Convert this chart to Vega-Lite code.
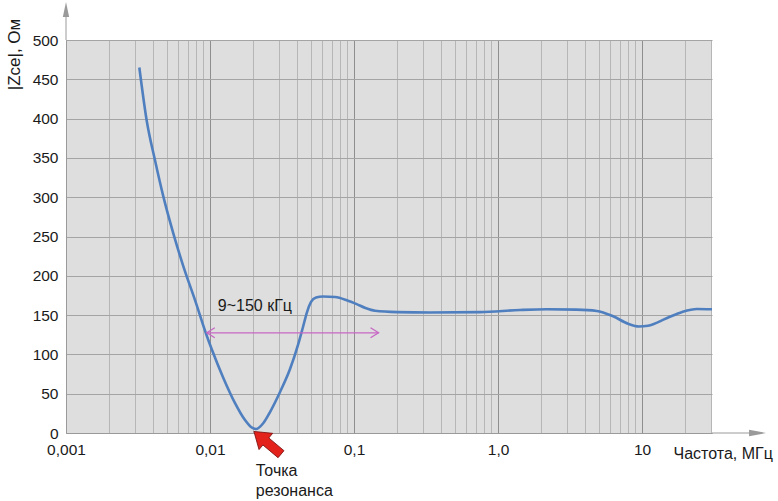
{
  "$schema": "https://vega.github.io/schema/vega-lite/v6.json",
  "width": 646,
  "height": 393,
  "autosize": {"type": "none"},
  "padding": {"left": 66, "top": 40, "right": 66, "bottom": 68},
  "background": "white",
  "config": {
    "view": {"fill": "#dedede", "stroke": null},
    "font": "Liberation Sans",
    "text": {"font": "Liberation Sans"}
  },
  "datasets": {
    "curve": [
      {"f": 0.00323, "z": 465},
      {"f": 0.00363, "z": 398},
      {"f": 0.00415, "z": 347},
      {"f": 0.00474, "z": 301},
      {"f": 0.00556, "z": 254},
      {"f": 0.00653, "z": 212},
      {"f": 0.00787, "z": 169},
      {"f": 0.00948, "z": 124},
      {"f": 0.01028, "z": 106.5},
      {"f": 0.01231, "z": 71},
      {"f": 0.01492, "z": 38},
      {"f": 0.01749, "z": 16.5},
      {"f": 0.01926, "z": 7.6},
      {"f": 0.02086, "z": 5},
      {"f": 0.02333, "z": 12.1},
      {"f": 0.0261, "z": 26.7},
      {"f": 0.03063, "z": 52.2},
      {"f": 0.03594, "z": 81.4},
      {"f": 0.04084, "z": 112},
      {"f": 0.04423, "z": 134.9},
      {"f": 0.04717, "z": 153.9},
      {"f": 0.05029, "z": 166.7},
      {"f": 0.05447, "z": 172.4},
      {"f": 0.06091, "z": 173.7},
      {"f": 0.0738, "z": 173},
      {"f": 0.089, "z": 169},
      {"f": 0.1044, "z": 164},
      {"f": 0.12, "z": 159},
      {"f": 0.14, "z": 155.5},
      {"f": 0.2, "z": 153.8},
      {"f": 0.337, "z": 153.3},
      {"f": 0.75, "z": 153.8},
      {"f": 1.42, "z": 156.5},
      {"f": 2.18, "z": 157.4},
      {"f": 3.5, "z": 157},
      {"f": 4.85, "z": 155.3},
      {"f": 6.29, "z": 148.5},
      {"f": 8.0, "z": 139},
      {"f": 9.5, "z": 135.5},
      {"f": 11.0, "z": 136.5},
      {"f": 14.8, "z": 146},
      {"f": 19.0, "z": 154},
      {"f": 24.0, "z": 157.8},
      {"f": 30.6, "z": 157.4}
    ],
    "band": [{"f": 0.0095, "f2": 0.148, "z": 127.5}],
    "bandEnds": [
      {"f": 0.0095, "z": 127.5, "end": "left"},
      {"f": 0.148, "z": 127.5, "end": "right"}
    ],
    "bandLabel": [{"f": 0.0205, "z": 161, "label": "9~150 кГц"}],
    "resonance": [{"f": 0.02506, "z": -12.5}],
    "resonanceLabel": [
      {"f": 0.0208, "z": -48.3, "label": "Точка"},
      {"f": 0.0208, "z": -73.8, "label": "резонанса"}
    ],
    "xAxisExt": [{"f": 30.6, "f2": 59, "z": 0}],
    "xAxisHead": [{"f": 63.4, "z": 0}],
    "yAxisExt": [{"f": 0.001, "z": 500, "z2": 530}],
    "yAxisHead": [{"f": 0.001, "z": 538.8}]
  },
  "encoding": {
    "x": {
      "field": "f",
      "type": "quantitative",
      "scale": {"type": "log", "domain": [0.001, 30.6], "nice": false},
      "axis": {
        "values": [0.001, 0.002, 0.003, 0.004, 0.005, 0.006, 0.007, 0.008, 0.009,
                   0.01, 0.02, 0.03, 0.04, 0.05, 0.06, 0.07, 0.08, 0.09,
                   0.1, 0.2, 0.3, 0.4, 0.5, 0.6, 0.7, 0.8, 0.9,
                   1, 2, 3, 4, 5, 6, 7, 8, 9,
                   10, 20, 30],
        "labelExpr": "datum.value == 0.001 ? '0,001' : datum.value == 0.01 ? '0,01' : datum.value == 0.1 ? '0,1' : datum.value == 1 ? '1,0' : datum.value == 10 ? '10' : ''",
        "labelFlush": false,
        "labelOverlap": false,
        "labelFontSize": 15.5,
        "labelColor": "#1a1a1a",
        "labelPadding": 9,
        "ticks": false,
        "domainColor": "#9a9a9a",
        "grid": true,
        "gridColor": {
          "condition": {"test": "indexof([0.001, 0.01, 0.1, 1, 10], datum.value) >= 0", "value": "#8e8e8e"},
          "value": "#b6b6b6"
        },
        "gridWidth": 1,
        "title": "Частота, МГц",
        "titleFontSize": 16,
        "titleFontWeight": "normal",
        "titleColor": "#1a1a1a",
        "titleX": 607,
        "titleY": 20,
        "titleAlign": "left",
        "titleBaseline": "middle"
      }
    },
    "y": {
      "field": "z",
      "type": "quantitative",
      "scale": {"domain": [0, 500], "nice": false},
      "axis": {
        "values": [0, 50, 100, 150, 200, 250, 300, 350, 400, 450, 500],
        "labelOverlap": false,
        "labelFontSize": 15.5,
        "labelColor": "#1a1a1a",
        "labelPadding": 8,
        "ticks": false,
        "domainColor": "#9a9a9a",
        "grid": true,
        "gridColor": "#a4a4a4",
        "title": "|Zce|, Ом",
        "titleFontSize": 17,
        "titleFontWeight": "normal",
        "titleColor": "#1a1a1a",
        "titleX": -52,
        "titleY": 14,
        "titleAngle": 270,
        "titleAlign": "center",
        "titleBaseline": "middle"
      }
    }
  },
  "layer": [
    {
      "data": {"name": "curve"},
      "mark": {"type": "line", "color": "#4f7fbf", "strokeWidth": 2.6, "interpolate": "monotone"}
    },
    {
      "data": {"name": "band"},
      "mark": {"type": "rule", "color": "#c766c4", "strokeWidth": 1.3},
      "encoding": {"x2": {"field": "f2"}}
    },
    {
      "data": {"name": "bandEnds"},
      "mark": {"type": "point", "filled": false, "color": "#c766c4", "strokeWidth": 1.3, "size": 100, "opacity": 1},
      "encoding": {
        "shape": {
          "field": "end",
          "type": "nominal",
          "scale": {"domain": ["left", "right"], "range": ["M1.6,-1 L0,0 L1.6,1", "M-1.6,-1 L0,0 L-1.6,1"]},
          "legend": null
        }
      }
    },
    {
      "data": {"name": "bandLabel"},
      "mark": {"type": "text", "fontSize": 16, "color": "#1a1a1a", "align": "center", "baseline": "middle"},
      "encoding": {"text": {"field": "label"}}
    },
    {
      "data": {"name": "resonance"},
      "mark": {
        "type": "point",
        "filled": true,
        "shape": "M0,-1 L0.6,-0.12 L0.26,-0.12 L0.26,1 L-0.26,1 L-0.26,-0.12 L-0.6,-0.12 Z",
        "size": 1250,
        "angle": -50,
        "fill": "#e3231b",
        "stroke": "#7a1010",
        "strokeWidth": 0.8,
        "opacity": 1
      }
    },
    {
      "data": {"name": "resonanceLabel"},
      "mark": {"type": "text", "fontSize": 16, "color": "#1a1a1a", "align": "left", "baseline": "middle"},
      "encoding": {"text": {"field": "label"}}
    },
    {
      "data": {"name": "xAxisExt"},
      "mark": {"type": "rule", "color": "#9a9a9a", "strokeWidth": 1},
      "encoding": {"x2": {"field": "f2"}}
    },
    {
      "data": {"name": "xAxisHead"},
      "mark": {"type": "point", "filled": true, "shape": "M1,0 L-1,-0.38 L-1,0.38 Z", "size": 289, "color": "#9a9a9a", "opacity": 1}
    },
    {
      "data": {"name": "yAxisExt"},
      "mark": {"type": "rule", "color": "#9a9a9a", "strokeWidth": 1},
      "encoding": {"y2": {"field": "z2"}}
    },
    {
      "data": {"name": "yAxisHead"},
      "mark": {"type": "point", "filled": true, "shape": "M0,-1 L0.42,1 L-0.42,1 Z", "size": 225, "color": "#9a9a9a", "opacity": 1}
    }
  ]
}
